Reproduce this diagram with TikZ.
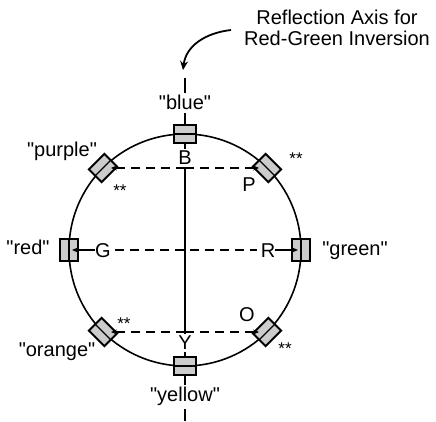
\documentclass[tikz,border=0pt]{standalone}
\usepackage{fontspec}
\setmainfont{Liberation Sans}[Ligatures=TeXOff]
\usetikzlibrary{arrows.meta,calc}
\begin{document}
\begin{tikzpicture}[x=1pt,y=1pt,
  lab/.style={font=\fontsize{20}{22}\selectfont, inner sep=0pt, anchor=base},
  wlab/.style={lab, fill=white, inner sep=2.5pt},
  stars/.style={font=\fontsize{17}{17}\selectfont, inner sep=0pt, anchor=base},
  pbox/.style={draw, line width=2pt, fill=gray!40, minimum width=22pt, minimum height=18pt, inner sep=0pt},
  smalltip/.style={-{Stealth[length=6pt,width=5pt]}},
  dashline/.style={line width=1.6pt, dash pattern=on 9pt off 6pt},
]
\useasboundingbox (0,0) rectangle (436,422);
\coordinate (C) at (185,172);
% circle
\draw[line width=1.6pt] (C) circle[radius=116pt];
% reflection axis
\coordinate (axtop) at (185,422-78);
\coordinate (axbot) at (185,422-421);
\draw[line width=1.1pt] (axtop) -- (axbot);
% labels on the axis
\node[wlab] (lblue) at (185,422-110) {"blue"};
\node[wlab] (B) at (185,422-165) {B};
\node[wlab] (Y) at (185,422-350) {Y};
\node[wlab] (lyellow) at (185,422-402) {"yellow"};
% boxes
\foreach \n/\a in {blue/90, purple/135, red/180, orange/225, yellow/270, ocol/315, green/0, pcol/45} {
  \node[pbox, rotate=\a-90] (b\n) at ($(C)+(\a:116pt)$) {};
  \draw[line width=1.2pt] (b\n.west) -- (b\n.east);
}
% title and pointer
\node[lab] (title1) at (337,422-25) {Reflection Axis for};
\node[lab] (title2) at (337,422-46) {Red-Green Inversion};
\coordinate (as) at (231,422-30);
\coordinate (ae) at (183,422-70);
\draw[line width=1.8pt, -{Stealth[length=9pt,width=8pt]}] (as) .. controls (205,422-33) and (186,422-46) .. (ae);
% top row
\draw[dashline, smalltip, shorten >=8pt] ($(bpurple.center)!0.5!(bpcol.center)$) -- (bpurple.center);
\draw[dashline, smalltip, shorten >=8pt] ($(bpurple.center)!0.5!(bpcol.center)$) -- (bpcol.center);
% middle row
\node[lab] (G) at (103,422-258) {G};
\node[lab] (R) at (268,422-258) {R};
\draw[line width=1.1pt, smalltip, shorten >=3pt] (G.west |- bred.center) -- (bred.center);
\draw[dashline, shorten <=4pt, shorten >=4pt] (G.east |- bred.center) -- (R.west |- bred.center);
\draw[line width=1.1pt, smalltip, shorten >=3pt] (R.east |- bgreen.center) -- (bgreen.center);
% bottom row
\draw[dashline, smalltip, shorten >=8pt] ($(borange.center)!0.5!(bocol.center)$) -- (borange.center);
\draw[dashline, smalltip, shorten >=8pt] ($(borange.center)!0.5!(bocol.center)$) -- (bocol.center);
% letters
\node[lab] (P) at (249,422-192) {P};
\node[lab] (O) at (247,422-322) {O};
% colour names
\node[lab] (lpurple) at (62,422-157) {"purple"};
\node[lab] (lred) at (28,422-255) {"red"};
\node[lab] (lgreen) at (355,422-256) {"green"};
\node[lab] (lorange) at (57,422-357) {"orange"};
% stars
\node[stars] (s1) at (120,422-197) {**};
\node[stars] (s2) at (296,422-165) {**};
\node[stars] (s3) at (124,422-330) {**};
\node[stars] (s4) at (285,422-355) {**};
\end{tikzpicture}
\end{document}
